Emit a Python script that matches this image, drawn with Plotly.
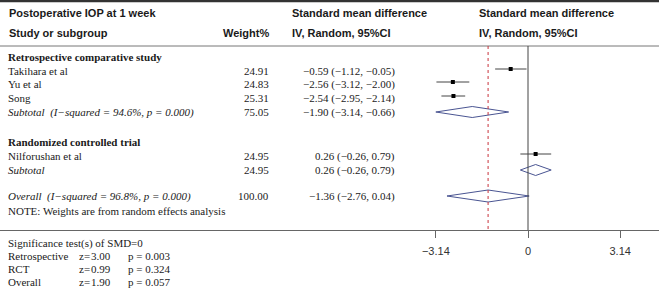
import plotly.graph_objects as go

# ---------------- data ----------------
title = "Postoperative IOP at 1 week"
groups = ["Retrospective comparative study", "Randomized controlled trial"]
studies = ["Takihara et al", "Yu et al", "Song", "Nilforushan et al"]
weights = [24.91, 24.83, 25.31, 24.95]
smd = [-0.59, -2.56, -2.54, 0.26]
ci_lo = [-1.12, -3.12, -2.95, -0.26]
ci_hi = [-0.05, -2.00, -2.14, 0.79]

sub_labels = ["Subtotal  (I\u2212squared = 94.6%, p = 0.000)", "Subtotal"]
sub_weights = [75.05, 24.95]
sub_smd = [-1.90, 0.26]
sub_lo = [-3.14, -0.26]
sub_hi = [-0.66, 0.79]

overall_label = "Overall  (I\u2212squared = 96.8%, p = 0.000)"
overall_weight = 100.00
overall_smd = -1.36
overall_lo = -2.76
overall_hi = 0.04

test_names = ["Retrospective", "RCT", "Overall"]
test_z = [3.00, 0.99, 1.90]
test_p = [0.003, 0.324, 0.057]

tick_vals = [-3.14, 0, 3.14]
tick_text = ["\u22123.14", "0", "3.14"]

# ---------------- layout constants (pixels) ----------------
W, H = 659, 289
X0PX, PXU = 528.0, 29.35          # zero position and px per unit
xr = [-X0PX / PXU, (W - X0PX) / PXU]

group_y = [57, 142]
study_y = [71, 84, 98, 156]
sub_y = [112, 170]
overall_y = 196
note_y = 211
hdr1_y, hdr2_y = 13, 33
hline_y = 46
axis_y = 230
sig_y = 243
test_y = [256, 269, 282]

SANS = "Liberation Sans, Arial, sans-serif"
SERIF = "Liberation Serif, Times New Roman, serif"
DIAM = "#4a5592"


def fmt(v):
    return f"{v:.2f}".replace("-", "\u2212")


def ci_text(e, l, h):
    return f"{fmt(e)} ({fmt(l)}, {fmt(h)})"


fig = go.Figure()

# CI lines and squares
for i in range(len(studies)):
    my = study_y[i] - 2
    fig.add_trace(go.Scatter(x=[ci_lo[i], ci_hi[i]], y=[my, my], mode="lines",
                             line=dict(color="#444", width=1), hoverinfo="skip", showlegend=False))
fig.add_trace(go.Scatter(x=smd, y=[y - 2 for y in study_y], mode="markers",
                         marker=dict(symbol="square", size=4, color="black"),
                         showlegend=False))


def diamond(e, l, h, yc, hh=5.5):
    fig.add_trace(go.Scatter(x=[l, e, h, e, l], y=[yc, yc - hh, yc, yc + hh, yc], mode="lines",
                             line=dict(color=DIAM, width=1), hoverinfo="skip", showlegend=False))


for k in range(2):
    diamond(sub_smd[k], sub_lo[k], sub_hi[k], sub_y[k])
diamond(overall_smd, overall_lo, overall_hi, overall_y, 6)

shapes = [
    dict(type="line", xref="paper", yref="y", x0=0, x1=1, y0=1, y1=1, line=dict(color="#333", width=2.5)),
    dict(type="line", xref="paper", yref="y", x0=0, x1=1, y0=hline_y, y1=hline_y, line=dict(color="#777", width=1)),
    dict(type="line", xref="x", yref="y", x0=0, x1=0, y0=hline_y, y1=axis_y, line=dict(color="#444", width=1)),
    dict(type="line", xref="x", yref="y", x0=overall_smd, x1=overall_smd, y0=hline_y, y1=axis_y,
         line=dict(color="#c8323c", width=1, dash="dot")),
]

ann = []


def t(x, y, s, font=SERIF, size=11, bold=False, italic=False, anchor="left", color="#1a1a1a"):
    if bold:
        s = f"<b>{s}</b>"
    if italic:
        s = f"<i>{s}</i>"
    ann.append(dict(x=x, y=y, xref="x2", yref="y", text=s, showarrow=False, xanchor=anchor,
                    yanchor="middle", font=dict(family=font, size=size, color=color)))


t(7, hdr1_y, title, SANS, 11, bold=True)
t(7, hdr2_y, "Study or subgroup", SANS, 11, bold=True)
t(271, hdr2_y, "Weight%", SANS, 11, bold=True, anchor="right")
t(290, hdr1_y, "Standard mean difference", SANS, 11, bold=True)
t(290, hdr2_y, "IV, Random, 95%CI", SANS, 11, bold=True)
t(477, hdr1_y, "Standard mean difference", SANS, 11, bold=True)
t(477, hdr2_y, "IV, Random, 95%CI", SANS, 11, bold=True)

WX, CX = 271, 397
for g in range(2):
    t(6, group_y[g], groups[g], bold=True)
for i in range(len(studies)):
    t(6, study_y[i], studies[i])
    t(WX, study_y[i], f"{weights[i]:.2f}", anchor="right")
    t(CX, study_y[i], ci_text(smd[i], ci_lo[i], ci_hi[i]), anchor="right")
for k in range(2):
    t(6, sub_y[k], sub_labels[k], italic=True)
    t(WX, sub_y[k], f"{sub_weights[k]:.2f}", anchor="right")
    t(CX, sub_y[k], ci_text(sub_smd[k], sub_lo[k], sub_hi[k]), anchor="right")
t(6, overall_y, overall_label, italic=True)
t(WX, overall_y, f"{overall_weight:.2f}", anchor="right")
t(CX, overall_y, ci_text(overall_smd, overall_lo, overall_hi), anchor="right")
t(6, note_y, "NOTE: Weights are from random effects analysis")

t(6, sig_y, "Significance test(s) of SMD=0")
for i in range(3):
    t(6, test_y[i], test_names[i])
    t(77, test_y[i], "z=")
    t(113, test_y[i], f"{test_z[i]:.2f}", anchor="right")
    t(126, test_y[i], f"p = {test_p[i]:.3f}")

fig.update_layout(
    width=W, height=H, margin=dict(l=0, r=0, t=0, b=0),
    paper_bgcolor="white", plot_bgcolor="white",
    showlegend=False, shapes=shapes, annotations=ann,
    xaxis=dict(range=xr, domain=[0, 1], anchor="free", position=1 - axis_y / H,
               showgrid=False, zeroline=False, showline=True, linecolor="#666", linewidth=1,
               ticks="outside", ticklen=7, tickcolor="#666", tickwidth=1,
               tickvals=tick_vals, ticktext=tick_text, ticklabelstandoff=4,
               tickfont=dict(family=SANS, size=11, color="#333"), fixedrange=True),
    xaxis2=dict(range=[0, W], domain=[0, 1], overlaying="x", visible=False, fixedrange=True),
    yaxis=dict(range=[H, 0], domain=[0, 1], visible=False, fixedrange=True),
)

fig.write_html(
    "out.html",
    config={"displayModeBar": False},
    post_script="document.body.style.margin='0';document.body.style.padding='0';"
                "document.body.style.overflow='hidden';",
)
